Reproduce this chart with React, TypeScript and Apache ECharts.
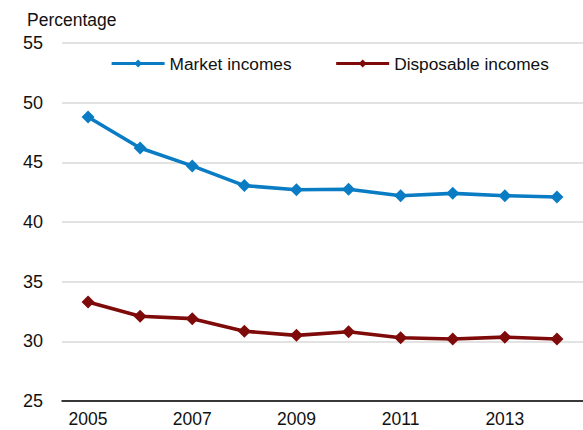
import React, { useEffect, useRef } from "react";
import * as echarts from "echarts";

const years = ["2005", "2006", "2007", "2008", "2009", "2010", "2011", "2012", "2013", "2014"];
const marketIncomes = [48.8, 46.2, 44.7, 43.05, 42.7, 42.75, 42.2, 42.4, 42.2, 42.1];
const disposableIncomes = [33.3, 32.1, 31.9, 30.85, 30.5, 30.8, 30.3, 30.2, 30.35, 30.2];
const seriesNames = ["Market incomes", "Disposable incomes"];
const yTitle = "Percentage";

const FONT = "Liberation Sans, Arial, sans-serif";

export default function App() {
  const ref = useRef<HTMLDivElement>(null);
  useEffect(() => {
    if (!ref.current) return;
    const chart = echarts.init(ref.current, undefined, { renderer: "svg" });
    chart.setOption({
      animation: false,
      backgroundColor: "#ffffff",
      textStyle: { fontFamily: FONT },
      graphic: [
        {
          type: "text",
          left: 27,
          top: 11,
          style: { text: yTitle, fontSize: 17.5, fontFamily: FONT, fill: "#111" },
        },
      ],
      legend: {
        top: 50,
        left: 105,
        width: 470,
        itemWidth: 53,
        itemHeight: 10,
        itemGap: 43,
        lineStyle: { width: 3.2 },
        textStyle: { fontSize: 17.3, color: "#111", fontFamily: FONT },
        data: seriesNames,
      },
      grid: { left: 62, top: 43, width: 523, height: 358, containLabel: false },
      xAxis: {
        type: "category",
        data: years,
        boundaryGap: true,
        axisLine: { lineStyle: { color: "#000", width: 1.5 } },
        axisTick: { inside: true, length: 5, interval: 0, lineStyle: { color: "#000", width: 1.5 } },
        axisLabel: { interval: 1, fontSize: 17.5, color: "#111", margin: 9, fontFamily: FONT },
        splitLine: { show: false },
      },
      yAxis: {
        type: "value",
        min: 25,
        max: 55,
        interval: 5,
        axisLine: { show: false },
        axisTick: { show: false },
        axisLabel: { fontSize: 18, color: "#111", margin: 19, fontFamily: FONT },
        splitLine: { lineStyle: { color: "#d9d9d9", width: 1.5 } },
      },
      series: [
        {
          name: seriesNames[0],
          type: "line",
          data: marketIncomes,
          symbol: "diamond",
          symbolSize: 13,
          lineStyle: { color: "#0a7cc4", width: 3.6 },
          itemStyle: { color: "#0a7cc4" },
        },
        {
          name: seriesNames[1],
          type: "line",
          data: disposableIncomes,
          symbol: "diamond",
          symbolSize: 13,
          lineStyle: { color: "#7f0a0a", width: 3.6 },
          itemStyle: { color: "#7f0a0a" },
        },
      ],
    });
    return () => chart.dispose();
  }, []);
  return (
    <div
      ref={ref}
      style={{ position: "absolute", left: 0, top: 0, width: 583, height: 430 }}
    />
  );
}
